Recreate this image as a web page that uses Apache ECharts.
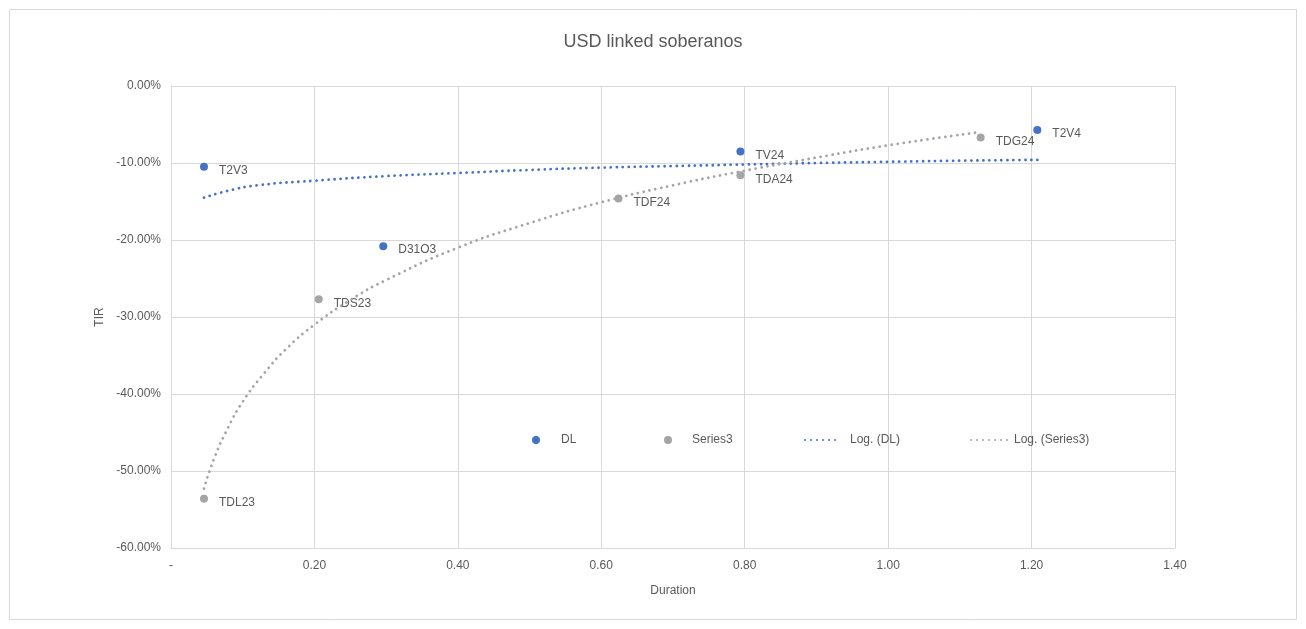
<!DOCTYPE html>
<html>
<head>
<meta charset="utf-8">
<script src="https://cdn.jsdelivr.net/npm/echarts@6/dist/echarts.min.js"></script>
<style>
  html, body { margin: 0; padding: 0; background: #fff; }
  #main { width: 1306px; height: 629px; }
</style>
</head>
<body>
<div id="main"></div>
<script>
// DL bonds (duration, TIR %)
var dlNames = ['T2V3', 'D31O3', 'TV24', 'T2V4'];
var dlDuration = [0.046, 0.296, 0.794, 1.208];
var dlTir = [-10.5, -20.8, -8.5, -5.7];

// Series3 bonds
var s3Names = ['TDL23', 'TDS23', 'TDF24', 'TDA24', 'TDG24'];
var s3Duration = [0.046, 0.206, 0.624, 0.794, 1.129];
var s3Tir = [-53.6, -27.7, -14.6, -11.6, -6.7];

// log trendlines, points
var dlTrendX = [0.046, 0.08, 0.12, 0.2, 0.3, 0.4, 0.5, 0.6, 0.7, 0.8, 0.9, 1.0, 1.1, 1.208];
var dlTrendY = [-14.5, -13.6, -12.9, -12.3, -11.7, -11.3, -10.9, -10.6, -10.4, -10.2, -10.0, -9.85, -9.7, -9.6];
var s3TrendX = [0.046, 0.06, 0.08, 0.1, 0.13, 0.16, 0.2, 0.25, 0.3, 0.4, 0.5, 0.6, 0.7, 0.8, 0.9, 1.0, 1.127];
var s3TrendY = [-52.3, -48.4, -44.3, -41.0, -37.3, -34.2, -31.0, -27.8, -25.2, -21.0, -17.8, -15.1, -12.9, -11.0, -9.3, -7.7, -6.0];

var blue = '#4472C4';
var gray = '#A5A5A5';
var txt = '#595959';
var font = 'Liberation Sans, Arial, sans-serif';

function pts(names, xs, ys) {
  return xs.map(function (x, i) { return { name: names[i], value: [x, ys[i]] }; });
}
function line(xs, ys) {
  return xs.map(function (x, i) { return [x, ys[i]]; });
}

var chart = echarts.init(document.getElementById('main'));

var pointLabel = {
  show: true, position: 'right', distance: 11, offset: [0, 4],
  formatter: '{b}', color: txt, fontSize: 12, fontFamily: font
};
var dotted = function (c) {
  return { color: c, width: 2.8, type: [0.01, 6], cap: 'round' };
};

function legendItem(name, left, w, h, pad, isLine) {
  var l = {
    data: [name], left: left, top: 434, padding: 0,
    itemWidth: w, itemHeight: h,
    textStyle: { color: txt, fontSize: 12, fontFamily: font, padding: [0, 0, 0, pad] }
  };
  if (isLine) l.itemStyle = { opacity: 0 };
  return l;
}

chart.setOption({
  animation: false,
  textStyle: { fontFamily: font },
  title: {
    text: 'USD linked soberanos', left: 'center', top: 28,
    textStyle: { color: txt, fontSize: 18, fontWeight: 'normal', fontFamily: font }
  },
  graphic: [{
    type: 'rect', shape: { x: 9.5, y: 9.5, width: 1287, height: 610 },
    style: { fill: null, stroke: '#D9D9D9', lineWidth: 1 }, silent: true, z: -1
  }],
  legend: [
    legendItem('DL', 532, 8, 8, 16, false),
    legendItem('Series3', 664, 8, 8, 15, false),
    legendItem('Log. (DL)', 804, 36, 4, 4, true),
    legendItem('Log. (Series3)', 970, 38, 4, 0, true)
  ],
  grid: { left: 171, right: 131, top: 86, bottom: 81 },
  xAxis: {
    type: 'value', min: 0, max: 1.4, interval: 0.2,
    name: 'Duration', nameLocation: 'middle', nameGap: 37,
    nameTextStyle: { color: txt, fontSize: 12 },
    axisLine: { show: true, onZero: false, lineStyle: { color: '#D9D9D9' } },
    axisTick: { show: false },
    axisLabel: {
      color: txt, fontSize: 12, margin: 12,
      formatter: function (v) { return v === 0 ? '-' : v.toFixed(2); }
    },
    splitLine: { show: true, lineStyle: { color: '#D9D9D9' } }
  },
  yAxis: {
    type: 'value', min: -60, max: 0, interval: 10,
    name: 'TIR', nameLocation: 'middle', nameGap: 54,
    nameTextStyle: { color: txt, fontSize: 12 },
    axisLine: { show: true, onZero: false, lineStyle: { color: '#D9D9D9' } },
    axisTick: { show: false },
    axisLabel: {
      color: txt, fontSize: 12, margin: 10,
      formatter: function (v) { return v.toFixed(2) + '%'; }
    },
    splitLine: { show: true, lineStyle: { color: '#D9D9D9' } }
  },
  series: [
    {
      name: 'DL', type: 'scatter', symbol: 'circle', symbolSize: 8,
      itemStyle: { color: blue, opacity: 1 }, label: pointLabel,
      data: pts(dlNames, dlDuration, dlTir), z: 3
    },
    {
      name: 'Series3', type: 'scatter', symbol: 'circle', symbolSize: 8,
      itemStyle: { color: gray, opacity: 1 }, label: pointLabel,
      data: pts(s3Names, s3Duration, s3Tir), z: 3
    },
    {
      name: 'Log. (DL)', type: 'line', smooth: true, symbol: 'none',
      itemStyle: { color: blue }, lineStyle: dotted(blue),
      data: line(dlTrendX, dlTrendY), z: 4
    },
    {
      name: 'Log. (Series3)', type: 'line', smooth: true, symbol: 'none',
      itemStyle: { color: gray }, lineStyle: dotted(gray),
      data: line(s3TrendX, s3TrendY), z: 4
    }
  ]
});
</script>
</body>
</html>
